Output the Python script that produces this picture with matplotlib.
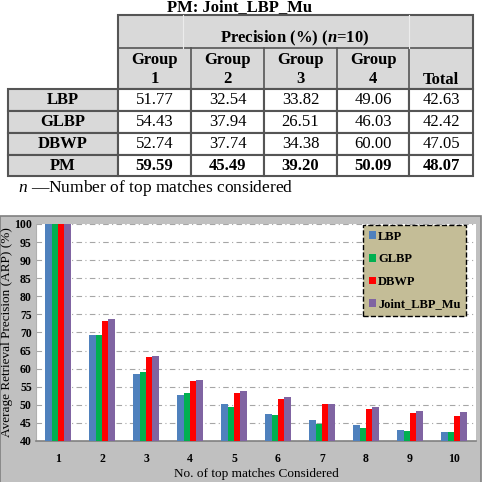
import matplotlib
matplotlib.use("Agg")
import matplotlib.pyplot as plt
from matplotlib.patches import Rectangle
import numpy as np

plt.rcParams["mathtext.fontset"] = "custom"
plt.rcParams["mathtext.rm"] = "Liberation Serif"
plt.rcParams["mathtext.it"] = "Liberation Serif:italic"
plt.rcParams["mathtext.bf"] = "Liberation Serif:bold"
plt.rcParams["mathtext.bfit"] = "Liberation Serif:bold:italic"

# ---------------- data ----------------
table_title = "PM: Joint_LBP_Mu"
table_cols = ["Group\n1", "Group\n2", "Group\n3", "Group\n4", "Total"]
table_rows = ["LBP", "GLBP", "DBWP", "PM"]
table_vals = [
    ["51.77", "32.54", "33.82", "49.06", "42.63"],
    ["54.43", "37.94", "26.51", "46.03", "42.42"],
    ["52.74", "37.74", "34.38", "60.00", "47.05"],
    ["59.59", "45.49", "39.20", "50.09", "48.07"],
]

n_matches = [1, 2, 3, 4, 5, 6, 7, 8, 9, 10]
series_names = ["LBP", "GLBP", "DBWP", "Joint_LBP_Mu"]
lbp = [100, 69.4, 58.4, 52.6, 50.1, 47.6, 45.8, 44.5, 43.1, 42.6]
glbp = [100, 69.2, 59.2, 53.4, 49.3, 47.3, 44.8, 43.6, 42.8, 42.4]
dbwp = [100, 73.1, 63.2, 56.5, 53.4, 51.7, 50.1, 48.9, 47.8, 47.0]
joint = [100, 73.6, 63.4, 57.0, 53.7, 52.3, 50.3, 49.5, 48.3, 48.1]
series = [lbp, glbp, dbwp, joint]
colors = ["#4f81bd", "#00b050", "#ff0000", "#8064a2"]
yticks = list(range(40, 101, 5))

W, H = 486, 482
fig = plt.figure(figsize=(W / 100, H / 100), dpi=100)
serif = ["Liberation Serif", "DejaVu Serif"]

# overlay in pixel coordinates
ov = fig.add_axes([0, 0, 1, 1])
ov.set_xlim(0, W)
ov.set_ylim(H, 0)
ov.axis("off")

# ---- table ----
ov.text(240, 11, table_title, ha="center", va="baseline", fontsize=12,
        fontweight="bold", family=serif)
grey = "#d9d9d9"
edge = "#555555"
colx = [118, 191, 264, 337, 409, 473]
rowy = [89, 111, 133, 155, 176]
ov.add_patch(Rectangle((118, 15), 473 - 118, 89 - 15, facecolor=grey,
                       edgecolor=edge, lw=1.5))
ov.plot([118, 473], [48, 48], color=edge, lw=1.2)
for x in colx[1:-1]:
    ov.plot([x, x], [48, 89], color=edge, lw=1.2)
for x in [183, 409]:
    ov.plot([x, x], [15, 48], color="#ececec", lw=0.8)
ov.text(295, 38, "Precision (%) ($\\mathbfit{n}$=10)", ha="center",
        va="center", fontsize=12, fontweight="bold", family=serif)
for i, c in enumerate(table_cols):
    cx = (colx[i] + colx[i + 1]) / 2
    if "\n" in c:
        a, b = c.split("\n")
        ov.text(cx, 60, a, ha="center", va="center", fontsize=12,
                fontweight="bold", family=serif)
        ov.text(cx, 79, b, ha="center", va="center", fontsize=12,
                fontweight="bold", family=serif)
    else:
        ov.text(cx, 80, c, ha="center", va="center", fontsize=12,
                fontweight="bold", family=serif)
for r, name in enumerate(table_rows):
    y0, y1 = rowy[r], rowy[r + 1]
    ov.add_patch(Rectangle((8, y0), 118 - 8, y1 - y0, facecolor=grey,
                           edgecolor=edge, lw=1.5))
    ov.text(63, (y0 + y1) / 2, name, ha="center", va="center", fontsize=12,
            fontweight="bold", family=serif)
    for c in range(5):
        ov.add_patch(Rectangle((colx[c], y0), colx[c + 1] - colx[c], y1 - y0,
                               facecolor="white", edgecolor=edge, lw=1.5))
        ov.text((colx[c] + colx[c + 1]) / 2, (y0 + y1) / 2, table_vals[r][c],
                ha="center", va="center", fontsize=12,
                fontweight="bold" if name == "PM" else "normal", family=serif)
ov.text(18, 188, "$\\mathit{n}$ \u2014Number of top matches considered",
        ha="left", va="center", fontsize=12.5, family=serif)

# ---- chart background ----
ov.add_patch(Rectangle((0, 216), 481, 270, facecolor="#c0c0c0",
                       edgecolor="#808080", lw=1.2))

# ---- chart axes ----
L, R, T, B = 36, 476, 224, 441
ax = fig.add_axes([L / W, 1 - B / H, (R - L) / W, (B - T) / H])
ax.set_facecolor("white")
x = np.array(n_matches, dtype=float)
bw = 0.1425
for i, (vals, col, nm) in enumerate(zip(series, colors, series_names)):
    ax.bar(x + (i - 1.5) * bw, np.array(vals) - 40, bottom=40, width=bw,
           color=col, label=nm, zorder=3)
ax.set_xlim(0.5, 10.5)
ax.set_ylim(40, 100)
ax.set_yticks(yticks)
ax.set_xticks(n_matches)
ax.set_xticklabels([str(v) for v in n_matches])
ax.yaxis.grid(True, color="#a6a6a6", lw=0.8, dashes=(5, 3, 1, 3))
ax.set_axisbelow(True)
for s in ["top", "right"]:
    ax.spines[s].set_visible(False)
ax.spines["left"].set_color("#b0b0b0")
ax.spines["bottom"].set_color("#808080")
ax.spines["bottom"].set_linewidth(1.2)
ax.tick_params(axis="y", length=0, pad=3)
ax.tick_params(axis="x", length=0, pad=9)
for lab in ax.get_xticklabels() + ax.get_yticklabels():
    lab.set_family(serif)
    lab.set_fontweight("bold")
    lab.set_fontsize(8.5)
ax.set_ylabel("Average Retrieval Precision (ARP) (%)", family=serif,
              fontsize=9.5, labelpad=1)
ax.set_xlabel("No. of top matches Considered", family=serif, fontsize=9.5,
              labelpad=2)

leg = ax.legend(loc="upper left",
                bbox_to_anchor=((363 - L) / (R - L), (B - 225) / (B - T)),
                borderaxespad=0, frameon=True, fancybox=False,
                facecolor="#c4bd97", edgecolor="black", handlelength=0.55,
                handleheight=0.55, handletextpad=0.2, labelspacing=0.85,
                borderpad=0.45,
                prop={"family": serif, "size": 9, "weight": "bold"})
leg.get_frame().set_linestyle("--")
leg.get_frame().set_linewidth(1.0)
leg.get_frame().set_alpha(1)

fig.savefig("out.png", dpi=100)
